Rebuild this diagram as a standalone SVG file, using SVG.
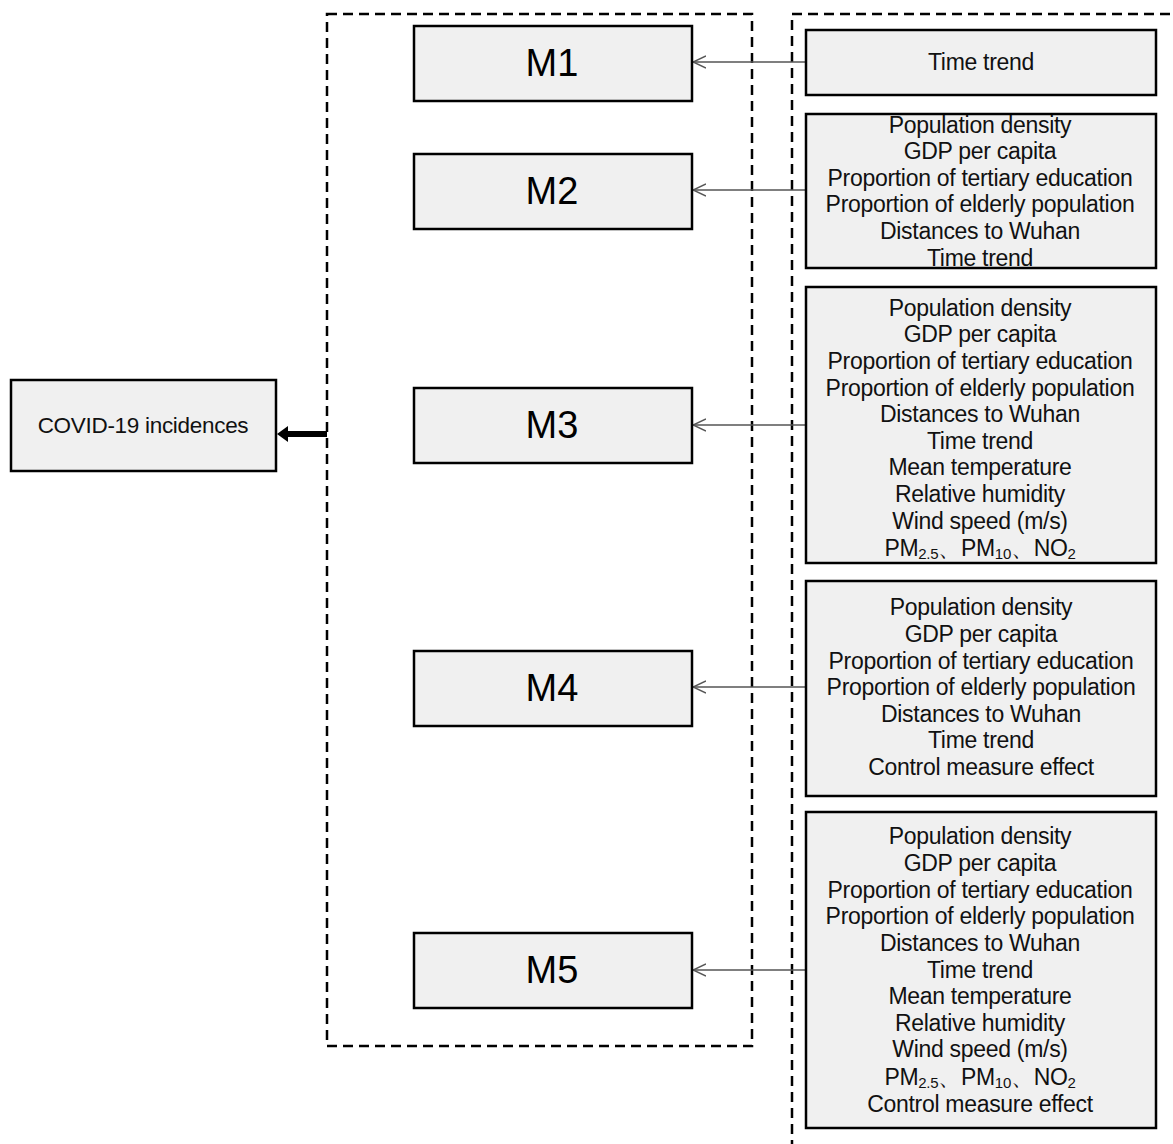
<svg xmlns="http://www.w3.org/2000/svg" width="1173" height="1144" viewBox="0 0 1173 1144">
<style>
.box{fill:#f0f0f0;stroke:#000;stroke-width:2.5}
.dash{fill:none;stroke:#000;stroke-width:2.5;stroke-dasharray:10 6}
.t{font-family:"Liberation Sans",Arial,sans-serif;font-size:23px;fill:#111;text-anchor:middle;dominant-baseline:central;letter-spacing:-0.3px}
.m{font-family:"Liberation Sans",Arial,sans-serif;font-size:38px;fill:#000;text-anchor:middle;dominant-baseline:central}
.c{stroke:#555;stroke-width:1.5;fill:none}
</style>
<defs>
<marker id="open" viewBox="0 0 14 14" refX="13" refY="7" markerWidth="14" markerHeight="14" markerUnits="userSpaceOnUse" orient="auto">
<path d="M0,1 L13,7 L0,13" fill="none" stroke="#555" stroke-width="1.5"/>
</marker>
</defs>
<g id="containers">
<rect class="dash" x="327" y="14" width="425" height="1032"/>
<path class="dash" d="M792,1150 L792,14 L1180,14"/>
</g>
<g id="connectors">
<line class="c" x1="805" y1="62" x2="693" y2="62" marker-end="url(#open)"/>
<line class="c" x1="805" y1="190" x2="693" y2="190" marker-end="url(#open)"/>
<line class="c" x1="805" y1="425" x2="693" y2="425" marker-end="url(#open)"/>
<line class="c" x1="805" y1="687" x2="693" y2="687" marker-end="url(#open)"/>
<line class="c" x1="805" y1="970" x2="693" y2="970" marker-end="url(#open)"/>
<line x1="327" y1="434" x2="286" y2="434" stroke="#000" stroke-width="6"/>
<path d="M277,434 L288,426 L288,442 Z" fill="#000"/>
</g>
<g id="covid">
<rect class="box" x="11" y="380" width="265" height="91"/>
<text class="t" x="143" y="425" style="font-size:22.5px;letter-spacing:-0.3px">COVID-19 incidences</text>
</g>
<g id="M1"><rect class="box" x="414" y="26" width="278" height="75"/><text class="m" x="552" y="63">M1</text></g>
<g id="M2"><rect class="box" x="414" y="154" width="278" height="75"/><text class="m" x="552" y="191">M2</text></g>
<g id="M3"><rect class="box" x="414" y="388" width="278" height="75"/><text class="m" x="552" y="425">M3</text></g>
<g id="M4"><rect class="box" x="414" y="651" width="278" height="75"/><text class="m" x="552" y="688">M4</text></g>
<g id="M5"><rect class="box" x="414" y="933" width="278" height="75"/><text class="m" x="552" y="970">M5</text></g>
<g id="F1">
<rect class="box" x="806" y="30" width="350" height="65"/>
<text class="t" x="981" y="62">Time trend</text>
</g>
<g id="F2">
<rect class="box" x="806" y="114" width="350" height="154"/>
<text class="t" x="980" y="125">Population density</text>
<text class="t" x="980" y="151">GDP per capita</text>
<text class="t" x="980" y="178">Proportion of tertiary education</text>
<text class="t" x="980" y="204">Proportion of elderly population</text>
<text class="t" x="980" y="231">Distances to Wuhan</text>
<text class="t" x="980" y="258">Time trend</text>
</g>
<g id="F3">
<rect class="box" x="806" y="287" width="350" height="276"/>
<text class="t" x="980" y="308">Population density</text>
<text class="t" x="980" y="334">GDP per capita</text>
<text class="t" x="980" y="361">Proportion of tertiary education</text>
<text class="t" x="980" y="388">Proportion of elderly population</text>
<text class="t" x="980" y="414">Distances to Wuhan</text>
<text class="t" x="980" y="441">Time trend</text>
<text class="t" x="980" y="467">Mean temperature</text>
<text class="t" x="980" y="494">Relative humidity</text>
<text class="t" x="980" y="521">Wind speed (m/s)</text>
<text class="t" x="980" y="548">PM<tspan font-size="15" dy="5">2.5</tspan><tspan dy="-5">、PM</tspan><tspan font-size="15" dy="5">10</tspan><tspan dy="-5">、NO</tspan><tspan font-size="15" dy="5">2</tspan></text>
</g>
<g id="F4">
<rect class="box" x="806" y="581" width="350" height="215"/>
<text class="t" x="981" y="607">Population density</text>
<text class="t" x="981" y="634">GDP per capita</text>
<text class="t" x="981" y="661">Proportion of tertiary education</text>
<text class="t" x="981" y="687">Proportion of elderly population</text>
<text class="t" x="981" y="714">Distances to Wuhan</text>
<text class="t" x="981" y="740">Time trend</text>
<text class="t" x="981" y="767">Control measure effect</text>
</g>
<g id="F5">
<rect class="box" x="806" y="812" width="350" height="316"/>
<text class="t" x="980" y="836">Population density</text>
<text class="t" x="980" y="863">GDP per capita</text>
<text class="t" x="980" y="890">Proportion of tertiary education</text>
<text class="t" x="980" y="916">Proportion of elderly population</text>
<text class="t" x="980" y="943">Distances to Wuhan</text>
<text class="t" x="980" y="970">Time trend</text>
<text class="t" x="980" y="996">Mean temperature</text>
<text class="t" x="980" y="1023">Relative humidity</text>
<text class="t" x="980" y="1049">Wind speed (m/s)</text>
<text class="t" x="980" y="1077">PM<tspan font-size="15" dy="5">2.5</tspan><tspan dy="-5">、PM</tspan><tspan font-size="15" dy="5">10</tspan><tspan dy="-5">、NO</tspan><tspan font-size="15" dy="5">2</tspan></text>
<text class="t" x="980" y="1104">Control measure effect</text>
</g>
</svg>
